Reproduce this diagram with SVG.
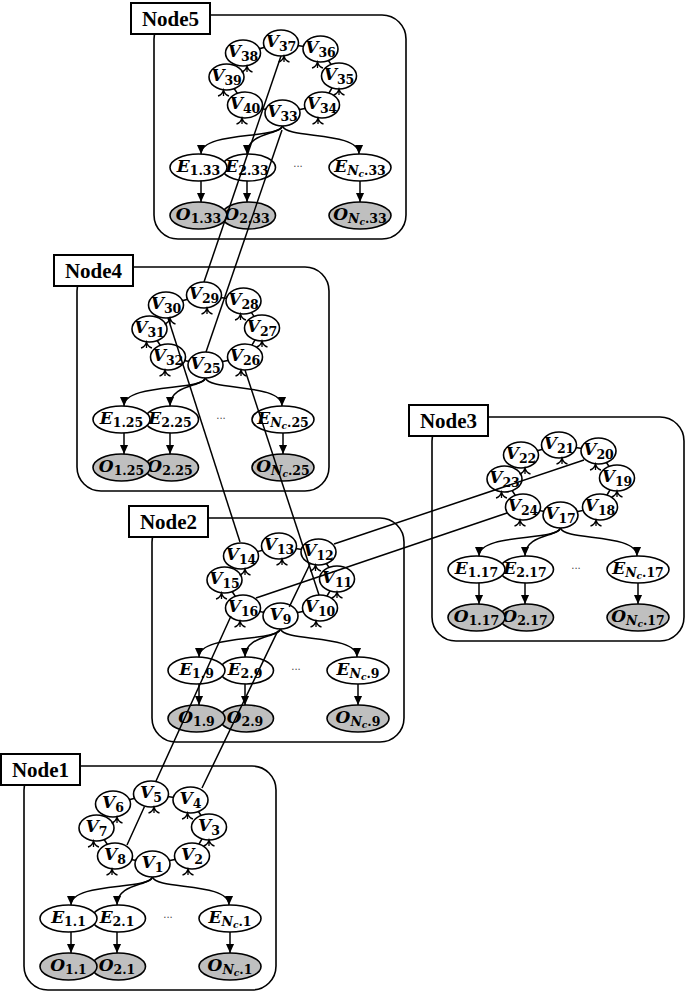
<svg xmlns="http://www.w3.org/2000/svg" width="685" height="994" viewBox="0 0 685 994">
<defs>
<style>
.bg{fill:#fff}
.box{fill:none;stroke:#000;stroke-width:1.6}
.lbl{fill:#fff;stroke:#000;stroke-width:2}
.lt{font-family:"Liberation Serif",serif;font-weight:bold;font-size:21px;text-anchor:middle}
.v ellipse,.e ellipse{fill:#fff;stroke:#000;stroke-width:1.6}
.o ellipse{fill:#bfbfbf;stroke:#000;stroke-width:1.6}
.t{font-family:"DejaVu Serif",serif;font-weight:bold;font-style:italic;font-size:17px;text-anchor:middle}
.s{font-size:12.5px;font-style:normal}
.si{font-size:12.5px}
.ss{font-size:9px}
.ring{fill:none;stroke:#000;stroke-width:1.5}
.mk{fill:none;stroke:#000;stroke-width:1.3}
.arr{fill:none;stroke:#000;stroke-width:1.5;marker-end:url(#ah)}
.cn path{fill:none;stroke:#000;stroke-width:1.5}
.dots{font-family:"DejaVu Sans",sans-serif;font-size:10px;fill:#444;text-anchor:middle}
</style>
<marker id="ah" viewBox="0 0 10 10" refX="10" refY="5" markerWidth="9" markerHeight="9" orient="auto" markerUnits="userSpaceOnUse"><path d="M0,0.5 L10,5 L0,9.5 Z"/></marker>
<path id="mk" class="mk" d="M-5.5,6 Q-1.5,5 0,0 Q1.5,5 5.5,6 M0,0 V6"/>
</defs>
<rect class="bg" width="685" height="994"/>

<!-- Node5 -->
<g id="node5" transform="translate(154,15)">
<rect class="box" width="252" height="224" rx="24"/>
<rect class="lbl" x="-23" y="-12" width="79" height="31"/>
<text class="lt" x="16.5" y="10.5">Node5</text>
<path class="ring" d="M128.5,98 L168,90 L185,61 L166.5,34 L127,28 L89,38 L72.5,62 L91,90 Z"/>
<g id="v33" class="v"><ellipse cx="128.5" cy="98" rx="17.5" ry="13"/><text class="t" x="128.5" y="102">V<tspan class="s" dy="4">33</tspan></text></g>
<g id="v34" class="v"><ellipse cx="168" cy="90" rx="17.5" ry="13"/><text class="t" x="168" y="94">V<tspan class="s" dy="4">34</tspan></text></g>
<g id="v35" class="v"><ellipse cx="185" cy="61" rx="17.5" ry="13"/><text class="t" x="185" y="65">V<tspan class="s" dy="4">35</tspan></text></g>
<g id="v36" class="v"><ellipse cx="166.5" cy="34" rx="17.5" ry="13"/><text class="t" x="166.5" y="38">V<tspan class="s" dy="4">36</tspan></text></g>
<g id="v37" class="v"><ellipse cx="127" cy="28" rx="17.5" ry="13"/><text class="t" x="127" y="32">V<tspan class="s" dy="4">37</tspan></text></g>
<g id="v38" class="v"><ellipse cx="89" cy="38" rx="17.5" ry="13"/><text class="t" x="89" y="42">V<tspan class="s" dy="4">38</tspan></text></g>
<g id="v39" class="v"><ellipse cx="72.5" cy="62" rx="17.5" ry="13"/><text class="t" x="72.5" y="66">V<tspan class="s" dy="4">39</tspan></text></g>
<g id="v40" class="v"><ellipse cx="91" cy="90" rx="17.5" ry="13"/><text class="t" x="91" y="94">V<tspan class="s" dy="4">40</tspan></text></g>
<use href="#mk" x="164" y="103"/><use href="#mk" x="185" y="74"/><use href="#mk" x="163.5" y="47"/><use href="#mk" x="130" y="41"/><use href="#mk" x="93" y="51"/><use href="#mk" x="69.5" y="75"/><use href="#mk" x="88" y="103"/>
<g id="e2_33" class="e"><ellipse cx="94.5" cy="152.5" rx="27" ry="13.5"/><text class="t" x="93" y="157">E<tspan class="s" dy="3">2.33</tspan></text></g>
<g id="e1_33" class="e"><ellipse cx="44.5" cy="152.5" rx="28.5" ry="13.5"/><text class="t" x="44.5" y="157">E<tspan class="s" dy="3">1.33</tspan></text></g>
<g id="enc_33" class="e"><ellipse cx="206" cy="152.5" rx="31" ry="13.5"/><text class="t" x="206" y="157">E<tspan class="si" dy="3">N</tspan><tspan class="ss" dy="2">c</tspan><tspan class="s" dy="-2">.33</tspan></text></g>
<text class="dots" x="144" y="152">...</text>
<g id="o2_33" class="o"><ellipse cx="94.5" cy="200.5" rx="27" ry="13.5"/><text class="t" x="93" y="205">O<tspan class="s" dy="3">2.33</tspan></text></g>
<g id="o1_33" class="o"><ellipse cx="44.5" cy="200.5" rx="28.5" ry="13.5"/><text class="t" x="44.5" y="205">O<tspan class="s" dy="3">1.33</tspan></text></g>
<g id="onc_33" class="o"><ellipse cx="206" cy="200.5" rx="31" ry="13.5"/><text class="t" x="206" y="205">O<tspan class="si" dy="3">N</tspan><tspan class="ss" dy="2">c</tspan><tspan class="s" dy="-2">.33</tspan></text></g>
<path class="arr" d="M128.5,111 C125,124 47,116 47,139"/>
<path class="arr" d="M128.5,111 C126,120 93,117 93,139"/>
<path class="arr" d="M128.5,111 C132,124 205,116 205,139"/>
<path class="arr" d="M47,166 V187"/><path class="arr" d="M93,166 V187"/><path class="arr" d="M206,166 V187"/>
</g>

<!-- Node4 -->
<g id="node4" transform="translate(77,267)">
<rect class="box" width="252" height="224" rx="24"/>
<rect class="lbl" x="-23" y="-12" width="79" height="31"/>
<text class="lt" x="16.5" y="10.5">Node4</text>
<path class="ring" d="M128.5,98 L168,90 L185,61 L166.5,34 L127,28 L89,38 L72.5,62 L91,90 Z"/>
<g id="v25" class="v"><ellipse cx="128.5" cy="98" rx="17.5" ry="13"/><text class="t" x="128.5" y="102">V<tspan class="s" dy="4">25</tspan></text></g>
<g id="v26" class="v"><ellipse cx="168" cy="90" rx="17.5" ry="13"/><text class="t" x="168" y="94">V<tspan class="s" dy="4">26</tspan></text></g>
<g id="v27" class="v"><ellipse cx="185" cy="61" rx="17.5" ry="13"/><text class="t" x="185" y="65">V<tspan class="s" dy="4">27</tspan></text></g>
<g id="v28" class="v"><ellipse cx="166.5" cy="34" rx="17.5" ry="13"/><text class="t" x="166.5" y="38">V<tspan class="s" dy="4">28</tspan></text></g>
<g id="v29" class="v"><ellipse cx="127" cy="28" rx="17.5" ry="13"/><text class="t" x="127" y="32">V<tspan class="s" dy="4">29</tspan></text></g>
<g id="v30" class="v"><ellipse cx="89" cy="38" rx="17.5" ry="13"/><text class="t" x="89" y="42">V<tspan class="s" dy="4">30</tspan></text></g>
<g id="v31" class="v"><ellipse cx="72.5" cy="62" rx="17.5" ry="13"/><text class="t" x="72.5" y="66">V<tspan class="s" dy="4">31</tspan></text></g>
<g id="v32" class="v"><ellipse cx="91" cy="90" rx="17.5" ry="13"/><text class="t" x="91" y="94">V<tspan class="s" dy="4">32</tspan></text></g>
<use href="#mk" x="164" y="103"/><use href="#mk" x="185" y="74"/><use href="#mk" x="163.5" y="47"/><use href="#mk" x="130" y="41"/><use href="#mk" x="93" y="51"/><use href="#mk" x="69.5" y="75"/><use href="#mk" x="88" y="103"/>
<g id="e2_25" class="e"><ellipse cx="94.5" cy="152.5" rx="27" ry="13.5"/><text class="t" x="93" y="157">E<tspan class="s" dy="3">2.25</tspan></text></g>
<g id="e1_25" class="e"><ellipse cx="44.5" cy="152.5" rx="28.5" ry="13.5"/><text class="t" x="44.5" y="157">E<tspan class="s" dy="3">1.25</tspan></text></g>
<g id="enc_25" class="e"><ellipse cx="206" cy="152.5" rx="31" ry="13.5"/><text class="t" x="206" y="157">E<tspan class="si" dy="3">N</tspan><tspan class="ss" dy="2">c</tspan><tspan class="s" dy="-2">.25</tspan></text></g>
<text class="dots" x="144" y="152">...</text>
<g id="o2_25" class="o"><ellipse cx="94.5" cy="200.5" rx="27" ry="13.5"/><text class="t" x="93" y="205">O<tspan class="s" dy="3">2.25</tspan></text></g>
<g id="o1_25" class="o"><ellipse cx="44.5" cy="200.5" rx="28.5" ry="13.5"/><text class="t" x="44.5" y="205">O<tspan class="s" dy="3">1.25</tspan></text></g>
<g id="onc_25" class="o"><ellipse cx="206" cy="200.5" rx="31" ry="13.5"/><text class="t" x="206" y="205">O<tspan class="si" dy="3">N</tspan><tspan class="ss" dy="2">c</tspan><tspan class="s" dy="-2">.25</tspan></text></g>
<path class="arr" d="M128.5,111 C125,124 47,116 47,139"/>
<path class="arr" d="M128.5,111 C126,120 93,117 93,139"/>
<path class="arr" d="M128.5,111 C132,124 205,116 205,139"/>
<path class="arr" d="M47,166 V187"/><path class="arr" d="M93,166 V187"/><path class="arr" d="M206,166 V187"/>
</g>

<!-- Node3 -->
<g id="node3" transform="translate(432,417)">
<rect class="box" width="252" height="224" rx="24"/>
<rect class="lbl" x="-23" y="-12" width="79" height="31"/>
<text class="lt" x="16.5" y="10.5">Node3</text>
<path class="ring" d="M128.5,98 L168,90 L185,61 L166.5,34 L127,28 L89,38 L72.5,62 L91,90 Z"/>
<g id="v17" class="v"><ellipse cx="128.5" cy="98" rx="17.5" ry="13"/><text class="t" x="128.5" y="102">V<tspan class="s" dy="4">17</tspan></text></g>
<g id="v18" class="v"><ellipse cx="168" cy="90" rx="17.5" ry="13"/><text class="t" x="168" y="94">V<tspan class="s" dy="4">18</tspan></text></g>
<g id="v19" class="v"><ellipse cx="185" cy="61" rx="17.5" ry="13"/><text class="t" x="185" y="65">V<tspan class="s" dy="4">19</tspan></text></g>
<g id="v20" class="v"><ellipse cx="166.5" cy="34" rx="17.5" ry="13"/><text class="t" x="166.5" y="38">V<tspan class="s" dy="4">20</tspan></text></g>
<g id="v21" class="v"><ellipse cx="127" cy="28" rx="17.5" ry="13"/><text class="t" x="127" y="32">V<tspan class="s" dy="4">21</tspan></text></g>
<g id="v22" class="v"><ellipse cx="89" cy="38" rx="17.5" ry="13"/><text class="t" x="89" y="42">V<tspan class="s" dy="4">22</tspan></text></g>
<g id="v23" class="v"><ellipse cx="72.5" cy="62" rx="17.5" ry="13"/><text class="t" x="72.5" y="66">V<tspan class="s" dy="4">23</tspan></text></g>
<g id="v24" class="v"><ellipse cx="91" cy="90" rx="17.5" ry="13"/><text class="t" x="91" y="94">V<tspan class="s" dy="4">24</tspan></text></g>
<use href="#mk" x="164" y="103"/><use href="#mk" x="185" y="74"/><use href="#mk" x="163.5" y="47"/><use href="#mk" x="130" y="41"/><use href="#mk" x="93" y="51"/><use href="#mk" x="69.5" y="75"/><use href="#mk" x="88" y="103"/>
<g id="e2_17" class="e"><ellipse cx="94.5" cy="152.5" rx="27" ry="13.5"/><text class="t" x="93" y="157">E<tspan class="s" dy="3">2.17</tspan></text></g>
<g id="e1_17" class="e"><ellipse cx="44.5" cy="152.5" rx="28.5" ry="13.5"/><text class="t" x="44.5" y="157">E<tspan class="s" dy="3">1.17</tspan></text></g>
<g id="enc_17" class="e"><ellipse cx="206" cy="152.5" rx="31" ry="13.5"/><text class="t" x="206" y="157">E<tspan class="si" dy="3">N</tspan><tspan class="ss" dy="2">c</tspan><tspan class="s" dy="-2">.17</tspan></text></g>
<text class="dots" x="144" y="152">...</text>
<g id="o2_17" class="o"><ellipse cx="94.5" cy="200.5" rx="27" ry="13.5"/><text class="t" x="93" y="205">O<tspan class="s" dy="3">2.17</tspan></text></g>
<g id="o1_17" class="o"><ellipse cx="44.5" cy="200.5" rx="28.5" ry="13.5"/><text class="t" x="44.5" y="205">O<tspan class="s" dy="3">1.17</tspan></text></g>
<g id="onc_17" class="o"><ellipse cx="206" cy="200.5" rx="31" ry="13.5"/><text class="t" x="206" y="205">O<tspan class="si" dy="3">N</tspan><tspan class="ss" dy="2">c</tspan><tspan class="s" dy="-2">.17</tspan></text></g>
<path class="arr" d="M128.5,111 C125,124 47,116 47,139"/>
<path class="arr" d="M128.5,111 C126,120 93,117 93,139"/>
<path class="arr" d="M128.5,111 C132,124 205,116 205,139"/>
<path class="arr" d="M47,166 V187"/><path class="arr" d="M93,166 V187"/><path class="arr" d="M206,166 V187"/>
</g>

<!-- Node2 -->
<g id="node2" transform="translate(152,518)">
<rect class="box" width="252" height="224" rx="24"/>
<rect class="lbl" x="-23" y="-12" width="79" height="31"/>
<text class="lt" x="16.5" y="10.5">Node2</text>
<path class="ring" d="M128.5,98 L168,90 L185,61 L166.5,34 L127,28 L89,38 L72.5,62 L91,90 Z"/>
<g id="v9" class="v"><ellipse cx="128.5" cy="98" rx="17.5" ry="13"/><text class="t" x="128.5" y="102">V<tspan class="s" dy="4">9</tspan></text></g>
<g id="v10" class="v"><ellipse cx="168" cy="90" rx="17.5" ry="13"/><text class="t" x="168" y="94">V<tspan class="s" dy="4">10</tspan></text></g>
<g id="v11" class="v"><ellipse cx="185" cy="61" rx="17.5" ry="13"/><text class="t" x="185" y="65">V<tspan class="s" dy="4">11</tspan></text></g>
<g id="v12" class="v"><ellipse cx="166.5" cy="34" rx="17.5" ry="13"/><text class="t" x="166.5" y="38">V<tspan class="s" dy="4">12</tspan></text></g>
<g id="v13" class="v"><ellipse cx="127" cy="28" rx="17.5" ry="13"/><text class="t" x="127" y="32">V<tspan class="s" dy="4">13</tspan></text></g>
<g id="v14" class="v"><ellipse cx="89" cy="38" rx="17.5" ry="13"/><text class="t" x="89" y="42">V<tspan class="s" dy="4">14</tspan></text></g>
<g id="v15" class="v"><ellipse cx="72.5" cy="62" rx="17.5" ry="13"/><text class="t" x="72.5" y="66">V<tspan class="s" dy="4">15</tspan></text></g>
<g id="v16" class="v"><ellipse cx="91" cy="90" rx="17.5" ry="13"/><text class="t" x="91" y="94">V<tspan class="s" dy="4">16</tspan></text></g>
<use href="#mk" x="164" y="103"/><use href="#mk" x="185" y="74"/><use href="#mk" x="163.5" y="47"/><use href="#mk" x="130" y="41"/><use href="#mk" x="93" y="51"/><use href="#mk" x="69.5" y="75"/><use href="#mk" x="88" y="103"/>
<g id="e2_9" class="e"><ellipse cx="94.5" cy="152.5" rx="27" ry="13.5"/><text class="t" x="93" y="157">E<tspan class="s" dy="3">2.9</tspan></text></g>
<g id="e1_9" class="e"><ellipse cx="44.5" cy="152.5" rx="28.5" ry="13.5"/><text class="t" x="44.5" y="157">E<tspan class="s" dy="3">1.9</tspan></text></g>
<g id="enc_9" class="e"><ellipse cx="206" cy="152.5" rx="31" ry="13.5"/><text class="t" x="206" y="157">E<tspan class="si" dy="3">N</tspan><tspan class="ss" dy="2">c</tspan><tspan class="s" dy="-2">.9</tspan></text></g>
<text class="dots" x="144" y="152">...</text>
<g id="o2_9" class="o"><ellipse cx="94.5" cy="200.5" rx="27" ry="13.5"/><text class="t" x="93" y="205">O<tspan class="s" dy="3">2.9</tspan></text></g>
<g id="o1_9" class="o"><ellipse cx="44.5" cy="200.5" rx="28.5" ry="13.5"/><text class="t" x="44.5" y="205">O<tspan class="s" dy="3">1.9</tspan></text></g>
<g id="onc_9" class="o"><ellipse cx="206" cy="200.5" rx="31" ry="13.5"/><text class="t" x="206" y="205">O<tspan class="si" dy="3">N</tspan><tspan class="ss" dy="2">c</tspan><tspan class="s" dy="-2">.9</tspan></text></g>
<path class="arr" d="M128.5,111 C125,124 47,116 47,139"/>
<path class="arr" d="M128.5,111 C126,120 93,117 93,139"/>
<path class="arr" d="M128.5,111 C132,124 205,116 205,139"/>
<path class="arr" d="M47,166 V187"/><path class="arr" d="M93,166 V187"/><path class="arr" d="M206,166 V187"/>
</g>

<!-- Node1 -->
<g id="node1" transform="translate(24,766)">
<rect class="box" width="252" height="224" rx="24"/>
<rect class="lbl" x="-23" y="-12" width="79" height="31"/>
<text class="lt" x="16.5" y="10.5">Node1</text>
<path class="ring" d="M128.5,98 L168,90 L185,61 L166.5,34 L127,28 L89,38 L72.5,62 L91,90 Z"/>
<g id="v1" class="v"><ellipse cx="128.5" cy="98" rx="17.5" ry="13"/><text class="t" x="128.5" y="102">V<tspan class="s" dy="4">1</tspan></text></g>
<g id="v2" class="v"><ellipse cx="168" cy="90" rx="17.5" ry="13"/><text class="t" x="168" y="94">V<tspan class="s" dy="4">2</tspan></text></g>
<g id="v3" class="v"><ellipse cx="185" cy="61" rx="17.5" ry="13"/><text class="t" x="185" y="65">V<tspan class="s" dy="4">3</tspan></text></g>
<g id="v4" class="v"><ellipse cx="166.5" cy="34" rx="17.5" ry="13"/><text class="t" x="166.5" y="38">V<tspan class="s" dy="4">4</tspan></text></g>
<g id="v5" class="v"><ellipse cx="127" cy="28" rx="17.5" ry="13"/><text class="t" x="127" y="32">V<tspan class="s" dy="4">5</tspan></text></g>
<g id="v6" class="v"><ellipse cx="89" cy="38" rx="17.5" ry="13"/><text class="t" x="89" y="42">V<tspan class="s" dy="4">6</tspan></text></g>
<g id="v7" class="v"><ellipse cx="72.5" cy="62" rx="17.5" ry="13"/><text class="t" x="72.5" y="66">V<tspan class="s" dy="4">7</tspan></text></g>
<g id="v8" class="v"><ellipse cx="91" cy="90" rx="17.5" ry="13"/><text class="t" x="91" y="94">V<tspan class="s" dy="4">8</tspan></text></g>
<use href="#mk" x="164" y="103"/><use href="#mk" x="185" y="74"/><use href="#mk" x="163.5" y="47"/><use href="#mk" x="130" y="41"/><use href="#mk" x="93" y="51"/><use href="#mk" x="69.5" y="75"/><use href="#mk" x="88" y="103"/>
<g id="e2_1" class="e"><ellipse cx="94.5" cy="152.5" rx="27" ry="13.5"/><text class="t" x="93" y="157">E<tspan class="s" dy="3">2.1</tspan></text></g>
<g id="e1_1" class="e"><ellipse cx="44.5" cy="152.5" rx="28.5" ry="13.5"/><text class="t" x="44.5" y="157">E<tspan class="s" dy="3">1.1</tspan></text></g>
<g id="enc_1" class="e"><ellipse cx="206" cy="152.5" rx="31" ry="13.5"/><text class="t" x="206" y="157">E<tspan class="si" dy="3">N</tspan><tspan class="ss" dy="2">c</tspan><tspan class="s" dy="-2">.1</tspan></text></g>
<text class="dots" x="144" y="152">...</text>
<g id="o2_1" class="o"><ellipse cx="94.5" cy="200.5" rx="27" ry="13.5"/><text class="t" x="93" y="205">O<tspan class="s" dy="3">2.1</tspan></text></g>
<g id="o1_1" class="o"><ellipse cx="44.5" cy="200.5" rx="28.5" ry="13.5"/><text class="t" x="44.5" y="205">O<tspan class="s" dy="3">1.1</tspan></text></g>
<g id="onc_1" class="o"><ellipse cx="206" cy="200.5" rx="31" ry="13.5"/><text class="t" x="206" y="205">O<tspan class="si" dy="3">N</tspan><tspan class="ss" dy="2">c</tspan><tspan class="s" dy="-2">.1</tspan></text></g>
<path class="arr" d="M128.5,111 C125,124 47,116 47,139"/>
<path class="arr" d="M128.5,111 C126,120 93,117 93,139"/>
<path class="arr" d="M128.5,111 C132,124 205,116 205,139"/>
<path class="arr" d="M47,166 V187"/><path class="arr" d="M93,166 V187"/><path class="arr" d="M206,166 V187"/>
</g>

<g id="connectors" class="cn">
<path d="M127,845 L144.5,806.5 M155.7,781.7 L231,616"/>
<path d="M202,788 L277.8,630.8 M289.3,606.8 L310,564"/>
<path d="M334,544 L584,460"/>
<path d="M256,598 L507,513"/>
<path d="M168,318 L240,542"/>
<path d="M245,370 L319,595"/>
<path d="M204,282 L281,56"/>
<path d="M282,130 L206,352"/>
</g>
</svg>
